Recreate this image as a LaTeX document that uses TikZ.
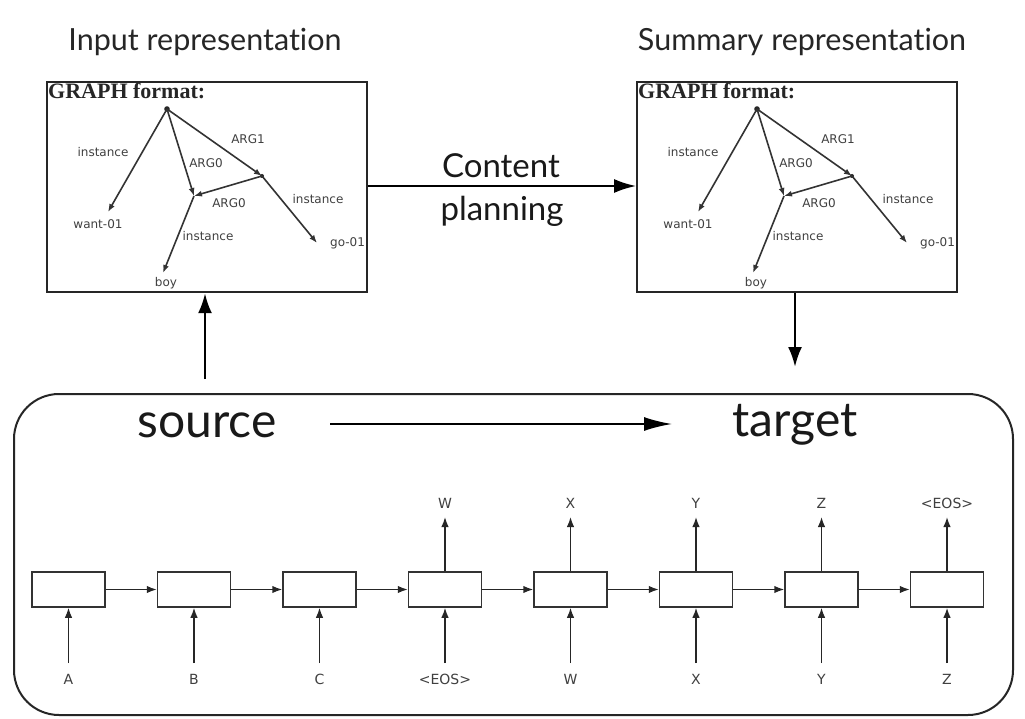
\documentclass[tikz,border=0pt]{standalone}
\usepackage{fontspec}
\setmainfont[Ligatures=CommonOff]{Lato}
\newfontfamily\dejavu{DejaVu Sans}
\newfontfamily\timesf{Liberation Serif}
\usetikzlibrary{arrows.meta}
\begin{document}
\begin{tikzpicture}[x=1pt,y=-1pt,
  title/.style={font=\fontsize{30.5}{34}\selectfont, text=black!85},
  big/.style={font=\fontsize{48}{52}\selectfont, text=black!90},
  mid/.style={font=\fontsize{33}{36}\selectfont, text=black!90},
  gbox/.style={draw=black!85, line width=2.2pt, minimum width=320, minimum height=210, anchor=north west, inner sep=0},
  glbl/.style={font=\dejavu\fontsize{12}{14}\selectfont, text=black!75, inner sep=1pt},
  garr/.style={draw=black!80, line width=1.6pt, -{Latex[length=8pt,width=6pt]}},
  gtitle/.style={font=\timesf\bfseries\fontsize{22}{24}\selectfont, text=black!85, anchor=base west, inner sep=0},
  bigarr/.style={line width=2pt, -{Latex[length=22pt,width=14pt]}},
  rbox/.style={draw=black!80, line width=1.5pt, minimum width=73, minimum height=35, inner sep=0},
  rlbl/.style={font=\dejavu\fontsize{14}{16}\selectfont, text=black!75, inner sep=0},
  rarr/.style={draw=black!85, line width=1.5pt, -{Latex[length=10pt,width=7.5pt]}}
]
\useasboundingbox[fill=white] (0,0) rectangle (1025,719);

% titles
\node[title] (tin) at (205,42) {Input representation};
\node[title] (tsum) at (802,42) {Summary representation};

% graph boxes
\foreach \p/\dx in {L/0,R/590}{
\begin{scope}[xshift=\dx]
  \node[gbox] (\p-box) at (46,81) {};
  \node[gtitle] (\p-gt) at (48,99) {GRAPH format:};
  \coordinate (\p-root) at (167,109);
  \coordinate (\p-a1) at (262,176);
  \coordinate (\p-a0) at (194,196);
  \fill[black!85] (\p-root) circle (2.8pt);
  \fill[black!85] (\p-a1) circle (2pt);
  \node[glbl] (\p-want) at (98,224) {want-01};
  \node[glbl, anchor=west] (\p-go) at (329,243) {go-01};
  \node[glbl] (\p-boy) at (166,283) {boy};
  \draw[garr] (\p-root) -- (108,212);
  \draw[garr] (\p-root) -- (\p-a0);
  \draw[garr] (\p-root) -- (\p-a1);
  \draw[garr] (\p-a1) -- (\p-a0);
  \draw[garr] (\p-a1) -- (317,243);
  \draw[garr] (\p-a0) -- (163,273);
  \node[glbl] (\p-l1) at (103,152) {instance};
  \node[glbl] (\p-l2) at (206,163) {ARG0};
  \node[glbl] (\p-l3) at (248,139) {ARG1};
  \node[glbl] (\p-l4) at (229,203) {ARG0};
  \node[glbl] (\p-l5) at (318,199) {instance};
  \node[glbl] (\p-l6) at (208,236) {instance};
\end{scope}
}

% content planning
\draw[bigarr] (L-box.east |- 0,186) -- (R-box.west |- 0,186);
\node[mid] (cp1) at (501,166) {Content};
\node[mid] (cp2) at (502,211) {planning};

% bottom rounded box
\node[draw=black!85, line width=2pt, rounded corners=45pt, minimum width=999, minimum height=321, anchor=north west, inner sep=0] (bot) at (13,393) {};
\node[big] (src) at (207,425) {source};
\node[big] (tgt) at (795,425) {target};
\draw[bigarr, -{Latex[length=28pt,width=14pt]}] (330,424) -- (672,424);

% vertical connectors
\coordinate (upstart) at (205,379);
\draw[bigarr, line width=2.5pt, -{Latex[length=20pt,width=14pt]}] (upstart) -- (upstart |- L-box.south);
\coordinate (downend) at (795,367);
\draw[bigarr, line width=2.5pt, -{Latex[length=20pt,width=14pt]}] (downend |- R-box.south) -- (downend);

% RNN chain
\foreach \i/\inp in {1/A,2/B,3/C,4/{<EOS>},5/W,6/X,7/Y,8/Z}{
  \pgfmathsetmacro\cx{68.5+125.5*(\i-1)}
  \node[rbox] (r\i) at (\cx,589.5) {};
  \node[rlbl] (in\i) at (\cx,679) {\inp};
  \draw[rarr] (\cx,663) -- (r\i.south);
}
\foreach \i/\outp in {4/W,5/X,6/Y,7/Z,8/{<EOS>}}{
  \pgfmathsetmacro\cx{68.5+125.5*(\i-1)}
  \node[rlbl] (out\i) at (\cx,503) {\outp};
  \draw[rarr] (r\i.north) -- (\cx,517);
}
\foreach \i [evaluate=\i as \j using int(\i+1)] in {1,...,7}{
  \draw[rarr] (r\i.east) -- (r\j.west);
}
\end{tikzpicture}
\end{document}
